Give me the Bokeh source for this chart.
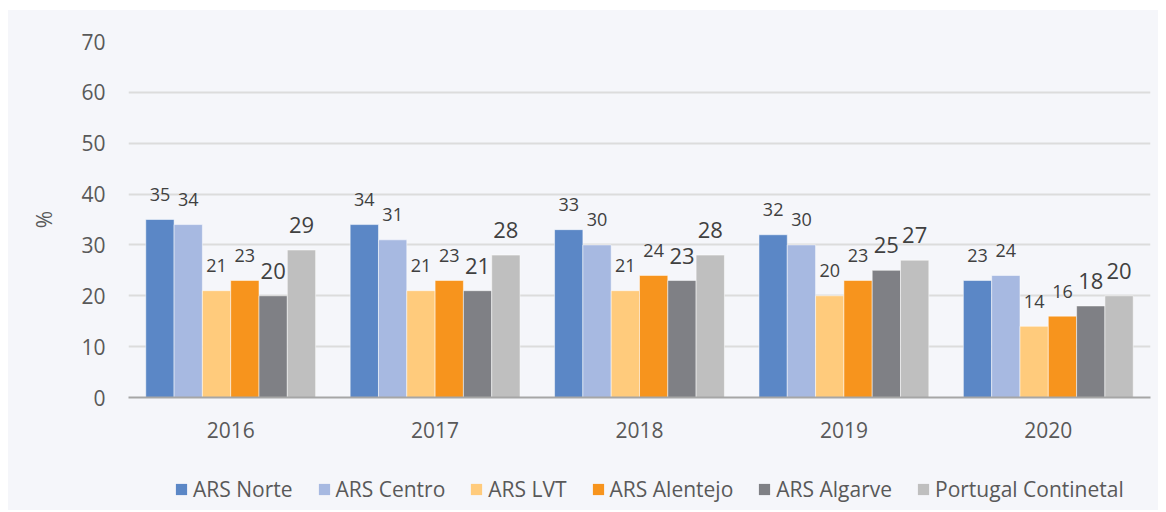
from bokeh.plotting import figure
from bokeh.layouts import column
from bokeh.models import ColumnDataSource, FactorRange, Legend, LegendItem, Range1d, FixedTicker
from bokeh.transform import dodge
from bokeh.core.properties import value
from bokeh.embed import file_html
from bokeh.resources import INLINE

years = ["2016", "2017", "2018", "2019", "2020"]
series_names = ["ARS Norte", "ARS Centro", "ARS LVT", "ARS Alentejo", "ARS Algarve", "Portugal Continetal"]
ars_norte = [35, 34, 33, 32, 23]
ars_centro = [34, 31, 30, 30, 24]
ars_lvt = [21, 21, 21, 20, 14]
ars_alentejo = [23, 23, 24, 23, 16]
ars_algarve = [20, 21, 23, 25, 18]
portugal = [29, 28, 28, 27, 20]
y_ticks = [0, 10, 20, 30, 40, 50, 60, 70]

series_values = [ars_norte, ars_centro, ars_lvt, ars_alentejo, ars_algarve, portugal]
colors = ["#5b87c6", "#a7b9e1", "#ffcb7c", "#f7941d", "#7f8085", "#bfbfbf"]
label_sizes = ["18px", "18px", "18px", "18px", "22px", "22px"]

FONT = "Open Sans"
BG = "#f5f6fa"

p = figure(
    x_range=FactorRange(*years, range_padding=0),
    y_range=Range1d(0, 70),
    width=1150, height=450,
    output_backend="svg", toolbar_location=None,
    min_border_left=120, min_border_right=8, min_border_top=31, min_border_bottom=63,
    background_fill_color=BG, border_fill_color=BG,
)
p.outline_line_color = None

bar_w = 0.1385
src = ColumnDataSource(dict(year=years, **{f"s{i}": v for i, v in enumerate(series_values)}))
for i, (name, vals) in enumerate(zip(series_names, series_values)):
    off = (i - 2.5) * bar_w
    p.vbar(x=dodge("year", off, range=p.x_range), top=f"s{i}", width=bar_w, source=src,
           fill_color=colors[i], line_color="white", line_alpha=0.5, line_width=1)
    p.text(x=dodge("year", off, range=p.x_range), y=f"s{i}", text=f"s{i}", source=src,
           text_align="center", text_baseline="alphabetic", y_offset=-25,
           text_font=value(FONT), text_font_size=label_sizes[i], text_color="#404040")

p.xgrid.grid_line_color = None
p.ygrid.grid_line_color = "#dcdcdc"
p.ygrid.grid_line_width = 2
p.yaxis.ticker = FixedTicker(ticks=y_ticks)

for ax in (p.xaxis[0], p.yaxis[0]):
    ax.major_tick_line_color = None
    ax.minor_tick_line_color = None
    ax.major_label_text_font = FONT
    ax.major_label_text_font_size = "21px"
    ax.major_label_text_color = "#595959"
p.yaxis.axis_line_color = None
p.xaxis.axis_line_color = "#a6a6a6"
p.xaxis.axis_line_width = 2
p.xaxis.major_label_standoff = 18
p.yaxis.major_label_standoff = 17
p.yaxis.axis_label = "%"
p.yaxis.axis_label_text_font = FONT
p.yaxis.axis_label_text_font_style = "normal"
p.yaxis.axis_label_text_font_size = "21px"
p.yaxis.axis_label_text_color = "#595959"
p.yaxis.axis_label_standoff = 20

# legend strip (its bars lie far outside its y range; only the legend shows)
lf = figure(width=1150, height=50, x_range=FactorRange(*years), y_range=Range1d(-1000, -999),
            output_backend="svg", toolbar_location=None, min_border=0,
            x_axis_location=None, y_axis_location=None,
            background_fill_color=BG, border_fill_color=BG)
lf.outline_line_color = None
lf.grid.visible = False
items = []
for i, (name, c) in enumerate(zip(series_names, colors)):
    r = lf.vbar(x="year", top=f"s{i}", width=0.0, source=src, fill_color=c, line_color=None)
    items.append(LegendItem(label=name, renderers=[r]))
legend = Legend(items=items, orientation="horizontal", location=(46, 7),
                label_text_font=FONT, label_text_font_size="21px", label_text_color="#595959",
                glyph_width=14, glyph_height=14, label_standoff=5, spacing=24,
                background_fill_alpha=0, border_line_color=None, margin=0, padding=0)
lf.add_layout(legend, "center")

layout = column(p, lf, spacing=0, margin=(10, 0, 0, 8), styles={"background-color": BG})
open("out.html", "w").write(file_html(layout, INLINE))
